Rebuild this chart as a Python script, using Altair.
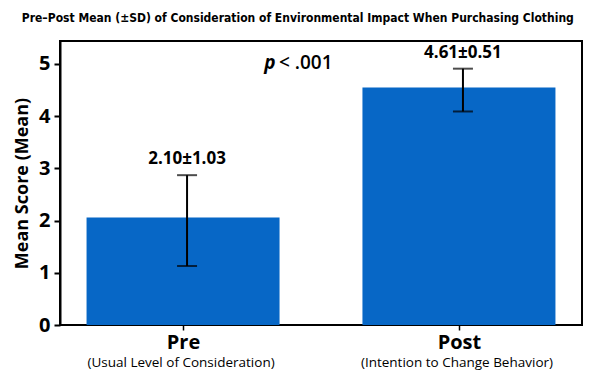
import altair as alt
import pandas as pd

groups = ["Pre", "Post"]
subtitles = ["(Usual Level of Consideration)", "(Intention to Change Behavior)"]
means = [2.06, 4.55]
err_lo = [1.13, 4.09]
err_hi = [2.87, 4.91]
labels = ["2.10\u00b11.03", "4.61\u00b10.51"]

df = pd.DataFrame({"group": groups, "sub": subtitles, "mean": means,
                   "lo": err_lo, "hi": err_hi, "label": labels})

W, H = 522, 284
FONT = "Open Sans"

xenc = alt.X("group:N", sort=groups,
             scale=alt.Scale(type="point", padding=0.446),
             axis=alt.Axis(title=None, labelAngle=0, labelFontSize=20, labelFontWeight="bold",
                           labelColor="black", labelFont=FONT, tickColor="black", tickSize=5,
                           tickWidth=1.5, domain=False, labelPadding=2))
yscale = alt.Scale(domain=[0, 5.44], nice=False)
yenc = alt.Y("mean:Q", scale=yscale,
             axis=alt.Axis(title="Mean Score (Mean)", values=[0, 1, 2, 3, 4, 5], format="d", grid=False,
                           titleFontSize=18, titleFontWeight="bold", titleFont=FONT, titleColor="black",
                           labelFontSize=20, labelFontWeight="bold", labelFont=FONT, labelColor="black",
                           domainColor="black", domainWidth=2, tickColor="black", tickWidth=2,
                           tickSize=6, labelPadding=4, titlePadding=7))

base = alt.Chart(df)

bars = base.mark_bar(size=193, color="#0767C6").encode(x=xenc, y=yenc)

rules = base.mark_rule(color="black", strokeWidth=2, xOffset=4).encode(
    x=alt.X("group:N", sort=groups), y=alt.Y("lo:Q", scale=yscale), y2="hi:Q")
cap_hi = base.mark_tick(color="black", thickness=2, size=20, xOffset=4).encode(
    x=alt.X("group:N", sort=groups), y=alt.Y("hi:Q", scale=yscale))
cap_lo = base.mark_tick(color="black", thickness=2, size=20, xOffset=4).encode(
    x=alt.X("group:N", sort=groups), y=alt.Y("lo:Q", scale=yscale))

txt = base.mark_text(font=FONT, fontSize=17, fontWeight="bold", baseline="bottom", dy=-7,
                     xOffset=4, color="black").encode(
    x=alt.X("group:N", sort=groups), y=alt.Y("hi:Q", scale=yscale), text="label:N")

subs = base.mark_text(font=FONT, fontSize=13.5, baseline="middle", color="black", xOffset=-2).encode(
    x=alt.X("group:N", sort=groups), y=alt.value(H + 38), text="sub:N")

p1 = alt.Chart(pd.DataFrame({"t": ["p"]})).mark_text(
    font=FONT, fontSize=19, fontStyle="italic", fontWeight="bold", align="center", baseline="middle",
    color="black").encode(x=alt.value(210), y=alt.value(22), text="t:N")
p2 = alt.Chart(pd.DataFrame({"t": ["< .001"]})).mark_text(
    font=FONT, fontSize=19, fontWeight=600, align="left", baseline="middle",
    color="black").encode(x=alt.value(219), y=alt.value(22), text="t:N")

chart = alt.layer(bars, rules, cap_hi, cap_lo, txt, subs, p1, p2).properties(
    width=W, height=H,
    background="white",
    padding={"left": 5, "top": 4, "right": 5, "bottom": 2},
    title=alt.TitleParams("Pre\u2013Post Mean (\u00b1SD) of Consideration of Environmental Impact When Purchasing Clothing",
                          font="DejaVu Sans Condensed", fontSize=12, fontWeight="bold", color="black",
                          anchor="middle", frame="bounds", offset=16),
).configure_view(stroke="black", strokeWidth=2)

chart.save("out.html", embed_options={"renderer": "svg", "actions": False})
